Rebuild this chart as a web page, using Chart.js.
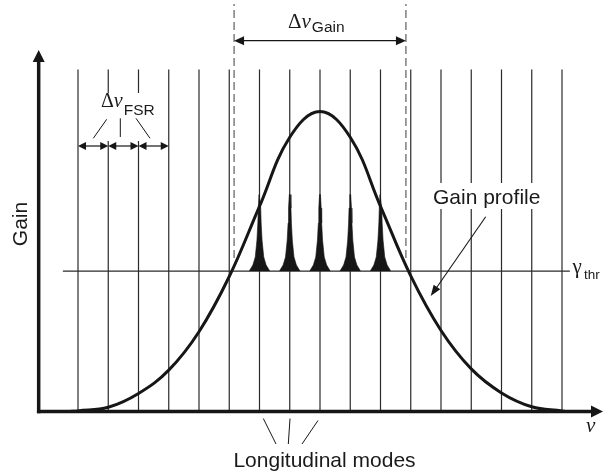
<!DOCTYPE html>
<html>
<head>
<meta charset="utf-8">
<script src="https://cdn.jsdelivr.net/npm/chart.js@4.4.0/dist/chart.umd.min.js"></script>
<style>
  html, body { margin: 0; padding: 0; background: #fff; }
  canvas { display: block; }
</style>
</head>
<body>
<canvas id="chart" width="606" height="475"></canvas>
<script>
// longitudinal modes (cavity resonances), numbered along ν
const modes = [0, 1, 2, 3, 4, 5, 6, 7, 8, 9, 10, 11, 12, 13, 14, 15, 16];
// gain profile (peak = 1)
const gainX = [-0.28, 0, 1, 2, 3, 4, 5, 6, 7, 8, 9, 10, 11, 12, 13, 14, 15, 16, 16.12];
const gainY = [0, 0.002, 0.014, 0.06, 0.138, 0.266, 0.45, 0.684, 0.914, 1, 0.914, 0.684, 0.452, 0.27, 0.142, 0.062, 0.016, 0.002, 0];
const threshold = 0.468;
const thresholdSpan = [-0.5, 16.26];
const modeLineTop = 1.14;
// modes above threshold and the shape of one emission line
const lasingModes = [6, 7, 8, 9, 10];
const spikeRise = [0, 0.02, 0.047, 0.103, 0.16, 0.21, 0.255];
const spikeHalfWidth = [0.34, 0.22, 0.14, 0.085, 0.055, 0.04, 0.015];
// gain bandwidth markers
const gainBand = [5.16, 10.84];
const bandSpan = [0.512, 1.358];
const fsrModes = [0, 1, 2, 3];

const X_MIN = -1.3, X_MAX = 17.4, Y_MIN = -0.2, Y_MAX = 1.37;
const pxX = 30.25, x0 = 78, pxY = 300, y0 = 411.5;

const ink = '#161616';
const sans = '"Liberation Sans", Arial, sans-serif';
const serif = '"Liberation Serif", "DejaVu Serif", serif';

function lineSet(points, extra) {
  return Object.assign({
    data: points, borderColor: '#2a2a2a', borderWidth: 1.2,
    pointRadius: 0, tension: 0, fill: false, clip: false
  }, extra);
}

const datasets = [];
datasets.push(lineSet(gainX.map((x, i) => ({ x, y: gainY[i] })), {
  borderColor: ink, borderWidth: 3, tension: 0.4, order: 0
}));
lasingModes.forEach(m => {
  const left = spikeRise.map((r, i) => ({ x: m - spikeHalfWidth[i], y: threshold + r }));
  const right = spikeRise.map((r, i) => ({ x: m + spikeHalfWidth[i], y: threshold + r })).reverse();
  datasets.push(lineSet(left.concat(right), {
    borderColor: ink, borderWidth: 0.6, backgroundColor: ink,
    fill: { value: threshold }, order: 1
  }));
});
datasets.push(lineSet(thresholdSpan.map(x => ({ x, y: threshold })), { order: 2 }));
modes.forEach(m => datasets.push(lineSet([{ x: m, y: 0 }, { x: m, y: modeLineTop }], { order: 3 })));
gainBand.forEach(x => datasets.push(lineSet(bandSpan.map(y => ({ x, y })), {
  borderColor: '#6a6a6a', borderWidth: 1.3, borderDash: [8, 4], order: 4
})));

function head(ctx, x, y, ang, len, half) {
  ctx.save();
  ctx.translate(x, y);
  ctx.rotate(ang);
  ctx.beginPath();
  ctx.moveTo(0, 0);
  ctx.lineTo(-len, -half);
  ctx.lineTo(-len, half);
  ctx.closePath();
  ctx.fill();
  ctx.restore();
}

function seg(ctx, a, b, c, d) {
  ctx.beginPath();
  ctx.moveTo(a, b);
  ctx.lineTo(c, d);
  ctx.stroke();
}

// Δν with a sans subscript, laid out left to right
function deltaNu(ctx, x, y, size, sub, subSize, drop) {
  ctx.font = size + 'px ' + serif;
  ctx.fillText('Δ', x, y);
  x += ctx.measureText('Δ').width;
  ctx.font = 'italic ' + size + 'px ' + serif;
  ctx.fillText('ν', x, y);
  x += ctx.measureText('ν').width + 1;
  ctx.font = subSize + 'px ' + sans;
  ctx.fillText(sub, x, y + drop);
}

const annotations = {
  id: 'annotations',
  afterDatasetsDraw(chart) {
    const ctx = chart.ctx;
    const X = v => chart.scales.x.getPixelForValue(v);
    const Y = v => chart.scales.y.getPixelForValue(v);
    const L = chart.chartArea.left, B = Y(0);
    ctx.save();

    // gaps in the mode lines behind the labels
    ctx.fillStyle = '#fff';
    ctx.fillRect(X(0.75), 93, X(2.25) - X(0.75), 48);
    ctx.fillRect(428, 183, 118, 26);

    ctx.fillStyle = ink;
    ctx.strokeStyle = ink;

    // axes
    ctx.lineWidth = 3.5;
    seg(ctx, L, B + 1.75, L, 60);
    head(ctx, L, 50, -Math.PI / 2, 12, 6);
    seg(ctx, L - 1.75, B, 592, B);
    head(ctx, 603, B, 0, 12, 6);

    // Δν_Gain
    ctx.lineWidth = 1.3;
    const yg = 40.7, ga = X(gainBand[0]), gb = X(gainBand[1]);
    seg(ctx, ga + 6, yg, gb - 6, yg);
    head(ctx, ga, yg, Math.PI, 10, 4.5);
    head(ctx, gb, yg, 0, 10, 4.5);

    // Δν_FSR
    ctx.lineWidth = 1.2;
    const yf = 146;
    for (let i = 0; i < fsrModes.length - 1; i++) {
      const a = X(fsrModes[i]), b = X(fsrModes[i + 1]);
      seg(ctx, a + 4, yf, b - 4, yf);
      head(ctx, a, yf, Math.PI, 8, 4);
      head(ctx, b, yf, 0, 8, 4);
    }
    ctx.lineWidth = 1;
    seg(ctx, 106.7, 119.3, 93.3, 138.3);
    seg(ctx, 120.3, 118.3, 120.3, 137);
    seg(ctx, 136, 118.3, 150, 138.3);

    // gain profile pointer
    ctx.lineWidth = 1.1;
    seg(ctx, 485.7, 216.7, 436, 288.5);
    head(ctx, 430.7, 296, Math.atan2(296 - 216.7, 430.7 - 485.7), 11, 4);

    // longitudinal mode pointers
    ctx.lineWidth = 1;
    seg(ctx, 263.3, 418.5, 276, 444);
    seg(ctx, 290, 418.5, 288.3, 444);
    seg(ctx, 318, 420.5, 302, 444);

    // texts
    ctx.fillStyle = '#1a1a1a';
    ctx.textBaseline = 'alphabetic';
    ctx.textAlign = 'left';

    deltaNu(ctx, 288, 27.5, 21, 'Gain', 15.5, 4.5);
    deltaNu(ctx, 101, 107, 20, 'FSR', 15.5, 8);

    ctx.font = '21px ' + sans;
    ctx.fillText('Gain profile', 433, 204);

    ctx.font = '21px ' + serif;
    ctx.fillText('γ', 572.5, 273);
    ctx.font = '13.5px ' + sans;
    ctx.fillText('thr', 584, 279);

    ctx.font = 'italic 21px ' + serif;
    ctx.fillText('ν', 586, 432);

    ctx.font = '21px ' + sans;
    ctx.textAlign = 'center';
    ctx.fillText('Longitudinal modes', 324.5, 467);

    ctx.save();
    ctx.translate(27, 224);
    ctx.rotate(-Math.PI / 2);
    ctx.fillText('Gain', 0, 0);
    ctx.restore();

    ctx.restore();
  }
};

new Chart(document.getElementById('chart'), {
  type: 'line',
  data: { datasets },
  options: {
    responsive: false,
    animation: false,
    events: [],
    layout: {
      padding: {
        left: x0 + X_MIN * pxX,
        right: 606 - (x0 + X_MAX * pxX),
        top: y0 - Y_MAX * pxY,
        bottom: 475 - (y0 - Y_MIN * pxY)
      }
    },
    scales: {
      x: { type: 'linear', min: X_MIN, max: X_MAX, display: false },
      y: { type: 'linear', min: Y_MIN, max: Y_MAX, display: false }
    },
    plugins: { legend: { display: false }, tooltip: { enabled: false } }
  },
  plugins: [annotations]
});
</script>
</body>
</html>
